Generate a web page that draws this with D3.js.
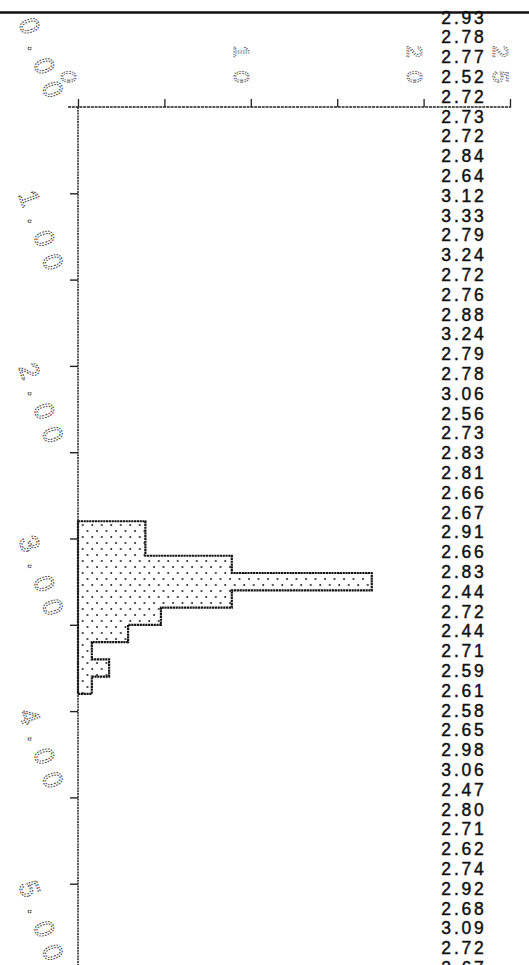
<!DOCTYPE html>
<html>
<head>
<meta charset="utf-8">
<script src="https://cdn.jsdelivr.net/npm/d3@7"></script>
<style>
  body { margin: 0; background: #fff; }
  svg { display: block; }
</style>
</head>
<body>
<div id="chart"></div>
<script>
// histogram of densities, bins of 0.1 (g/cm3), drawn sideways
var binStarts = [2.4, 2.5, 2.6, 2.7, 2.8, 2.9, 3.0, 3.1, 3.2, 3.3];
var binCounts = [3.9, 3.9, 8.9, 17.0, 8.9, 4.8, 2.9, 0.8, 1.8, 0.8];

var yTickValues = [0.5, 1, 1.5, 2, 2.5, 3, 3.5, 4, 4.5];
var yLabelValues = [0, 1, 2, 3, 4, 5];
var xTickValues = [0, 5, 10, 15, 20, 25];
var xLabelValues = [0, 10, 20, 25];

var densities = [2.93, 2.78, 2.77, 2.52, 2.72, 2.73, 2.72, 2.84, 2.64, 3.12,
                 3.33, 2.79, 3.24, 2.72, 2.76, 2.88, 3.24, 2.79, 2.78, 3.06,
                 2.56, 2.73, 2.83, 2.81, 2.66, 2.67, 2.91, 2.66, 2.83, 2.44,
                 2.72, 2.44, 2.71, 2.59, 2.61, 2.58, 2.65, 2.98, 3.06, 2.47,
                 2.80, 2.71, 2.62, 2.74, 2.92, 2.68, 3.09, 2.72, 2.67];

function init(){
	var w = 529;
	var h = 965;

	var svg = d3.select("#chart")
				.append("svg")
				.attr("width", w)
				.attr("height", h);

	var x = d3.scaleLinear().domain([0, 25]).range([78, 510]);
	var y = d3.scaleLinear().domain([0, 5]).range([107, 970]);
	var row = d3.scaleLinear().domain([0, 1]).range([23.5, 43.3]);

	// dotted fill
	var pat = svg.append("defs").append("pattern")
		.attr("id", "dots")
		.attr("patternUnits", "userSpaceOnUse")
		.attr("width", 9.5)
		.attr("height", 12);
	pat.append("circle").attr("cx", 2).attr("cy", 3).attr("r", 0.95).attr("fill", "#111");
	pat.append("circle").attr("cx", 6.75).attr("cy", 9).attr("r", 0.95).attr("fill", "#111");

	// page edge at top
	svg.append("line")
		.attr("x1", 0).attr("x2", w)
		.attr("y1", 12.5).attr("y2", 12.5)
		.attr("stroke", "#111")
		.attr("stroke-width", 2.6);

	// step outline of the histogram
	var pts = [[0, binStarts[0]]];
	binStarts.forEach(function(s, i){
		pts.push([binCounts[i], s]);
		pts.push([binCounts[i], s + 0.1]);
	});
	pts.push([0, binStarts[binStarts.length - 1] + 0.1]);

	var line = d3.line()
		.x(function(d){ return x(d[0]); })
		.y(function(d){ return y(d[1]); });

	svg.append("path")
		.attr("d", line(pts) + "Z")
		.attr("fill", "url(#dots)")
		.attr("stroke", "#111")
		.attr("stroke-width", 2.2)
		.attr("stroke-dasharray", "2.2,0.6");

	// frequency axis (top)
	var xAxis = svg.append("g")
		.attr("transform", "translate(0,107)")
		.call(d3.axisTop(x).tickValues(xTickValues).tickSize(8).tickFormat(""));
	xAxis.select(".domain").remove();
	xAxis.selectAll("line").attr("stroke", "#222").attr("stroke-width", 1.3);
	svg.append("line")
		.attr("x1", 68).attr("x2", 511)
		.attr("y1", 107).attr("y2", 107)
		.attr("stroke", "#222")
		.attr("stroke-width", 1.3)
		.attr("stroke-dasharray", "3,0.8");

	svg.selectAll("text.xlab")
		.data(xLabelValues)
		.enter()
		.append("text")
		.attr("class", "xlab")
		.text(function(d){ return d; })
		.attr("transform", function(d){
			return "translate(" + (x(d) - 17) + ",96) rotate(90)";
		})
		.attr("text-anchor", "end")
		.attr("font-family", "Liberation Sans")
		.attr("font-size", 22)
		.attr("letter-spacing", 13)
		.attr("fill", "none")
		.attr("stroke", "#555")
		.attr("stroke-width", 1)
		.attr("stroke-dasharray", "1.4,1.2");

	// density axis (left)
	var yAxis = svg.append("g")
		.attr("transform", "translate(78,0)")
		.call(d3.axisLeft(y).tickValues(yTickValues).tickSize(8).tickFormat(""));
	yAxis.select(".domain").remove();
	yAxis.selectAll("line").attr("stroke", "#222").attr("stroke-width", 1.4);
	svg.append("line")
		.attr("x1", 78).attr("x2", 78)
		.attr("y1", 107).attr("y2", h)
		.attr("stroke", "#222")
		.attr("stroke-width", 1.5)
		.attr("stroke-dasharray", "2,0.8");

	svg.selectAll("text.ylab")
		.data(yLabelValues)
		.enter()
		.append("text")
		.attr("class", "ylab")
		.text(function(d){ return d3.format(".2f")(d); })
		.attr("transform", function(d){
			return "translate(50," + (y(d) + 2) + ") rotate(70)";
		})
		.attr("text-anchor", "end")
		.attr("font-family", "Liberation Sans")
		.attr("font-size", 27)
		.attr("letter-spacing", 10)
		.attr("fill", "none")
		.attr("stroke", "#444")
		.attr("stroke-width", 1.1)
		.attr("stroke-dasharray", "1.6,1.3");

	// sample list on the right
	svg.selectAll("text.val")
		.data(densities)
		.enter()
		.append("text")
		.attr("class", "val")
		.text(function(d){ return d3.format(".2f")(d); })
		.attr("x", 464)
		.attr("y", function(d, i){ return row(i); })
		.attr("text-anchor", "middle")
		.attr("font-family", "Liberation Sans")
		.attr("font-size", 17.5)
		.attr("letter-spacing", 2.8)
		.attr("fill", "#111")
		.attr("stroke", "#111")
		.attr("stroke-width", 0.45);
}

window.onload = init;
</script>
</body>
</html>
